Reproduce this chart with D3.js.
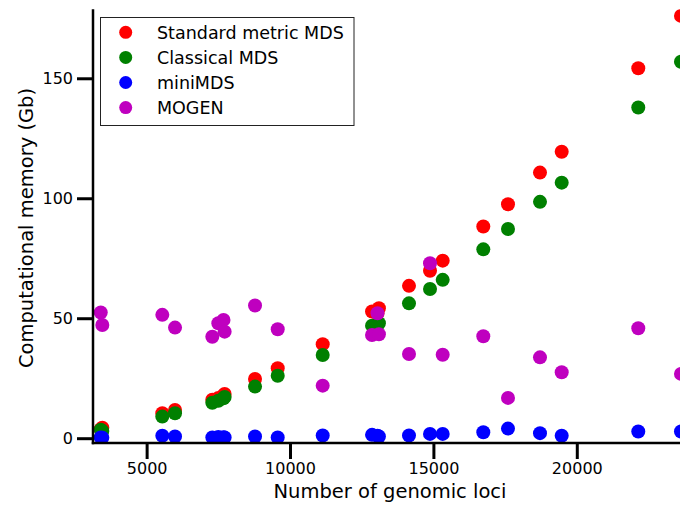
<!DOCTYPE html>
<html lang="en">
<head>
    <meta charset="UTF-8">
    <title>Memory vs genomic loci</title>
    <script src="https://d3js.org/d3.v7.min.js"></script>
    <style>
        body { margin: 0; background: #fff; }
        svg { display: block; font-family: "DejaVu Sans", sans-serif; }
    </style>
</head>
<body>
    <svg width="680" height="505"></svg>
    <script>

// Number of genomic loci per chromosome
const loci = [3400, 3455, 5547, 5990, 7291, 7500, 7680, 7720, 8780, 9571, 11140,
    12860, 13050, 13100, 14149, 14882, 15324, 16740, 17601, 18717, 19474, 22144, 23633];

// Memory (Gb) for each method
const standardMDS = [3.8, 4.4, 10.4, 11.8, 16.0, 16.8, 17.8, 18.4, 24.7, 29.2, 39.2,
    52.8, 52.0, 54.2, 63.5, 69.8, 74.0, 88.2, 97.5, 110.7, 119.4, 154.2, 176.0];
const classicalMDS = [3.5, 3.0, 9.0, 10.4, 14.8, 15.6, 16.6, 17.2, 21.5, 26.0, 34.7,
    46.9, 47.5, 47.9, 56.2, 62.2, 66.0, 78.7, 87.2, 98.5, 106.5, 137.8, 156.9];
const miniMDS = [0.3, 0.2, 1.0, 0.7, 0.3, 0.5, 0.4, 0.3, 0.7, 0.3, 1.1,
    1.4, 1.0, 0.7, 1.1, 1.8, 1.8, 2.5, 4.0, 2.1, 1.0, 2.8, 2.8];
const mogen = [52.4, 47.2, 51.4, 46.1, 42.3, 47.9, 49.3, 44.4, 55.3, 45.4, 21.9,
    43.0, 52.1, 43.3, 35.1, 72.9, 34.8, 42.5, 16.8, 33.7, 27.5, 45.8, 26.8];

const seriesNames = ["Standard metric MDS", "Classical MDS", "miniMDS", "MOGEN"];
const seriesValues = [standardMDS, classicalMDS, miniMDS, mogen];
const seriesColors = ["#ff0000", "#008000", "#0000ff", "#bf00bf"];

const xTicks = [5000, 10000, 15000, 20000];
const yTicks = [0, 50, 100, 150];

const svg = d3.select("svg");
const plotLeft = 93, plotTop = 9.3, plotBottom = 443;

const x = d3.scaleLinear().domain([3130, 24000]).range([plotLeft, 691.5]);
const y = d3.scaleLinear().domain([-2, 178.75]).range([plotBottom, plotTop]);

svg.append("clipPath").attr("id", "plot")
    .append("rect")
    .attr("x", plotLeft).attr("y", plotTop)
    .attr("width", 700 - plotLeft).attr("height", plotBottom - plotTop);

// points, drawn series by series so MOGEN ends on top
const pts = svg.append("g").attr("clip-path", "url(#plot)");
seriesValues.forEach((vals, i) => {
    pts.append("g")
        .selectAll("circle")
        .data(loci.map((l, j) => ({ l, v: vals[j] })))
        .enter().append("circle")
        .attr("cx", d => x(d.l))
        .attr("cy", d => y(d.v))
        .attr("r", 7)
        .attr("fill", seriesColors[i]);
});

// axes
const xAxis = svg.append("g")
    .attr("transform", `translate(0,${plotBottom})`)
    .call(d3.axisBottom(x).tickValues(xTicks).tickSize(16).tickPadding(4).tickFormat(d3.format("d")));
const yAxis = svg.append("g")
    .attr("transform", `translate(${plotLeft},0)`)
    .call(d3.axisLeft(y).tickValues(yTicks).tickSize(16).tickPadding(4));

[xAxis, yAxis].forEach(a => {
    a.select(".domain").remove();
    a.selectAll(".tick line").attr("stroke", "#000").attr("stroke-width", 3);
    a.selectAll(".tick text")
        .attr("fill", "#000")
        .style("font-family", "DejaVu Sans")
        .style("font-size", "16px");
});

// spines
svg.append("line")
    .attr("x1", plotLeft).attr("x2", plotLeft)
    .attr("y1", plotTop).attr("y2", plotBottom + 1.25)
    .attr("stroke", "#000").attr("stroke-width", 2.5);
svg.append("line")
    .attr("x1", plotLeft - 1.25).attr("x2", 680)
    .attr("y1", plotBottom).attr("y2", plotBottom)
    .attr("stroke", "#000").attr("stroke-width", 2.5);

// axis labels
svg.append("text")
    .attr("x", 390).attr("y", 498)
    .attr("text-anchor", "middle")
    .style("font-size", "19.5px")
    .text("Number of genomic loci");
svg.append("text")
    .attr("transform", "translate(26,228) rotate(-90)")
    .attr("text-anchor", "middle")
    .attr("dominant-baseline", "central")
    .style("font-size", "19.5px")
    .text("Computational memory (Gb)");

// legend
const legend = svg.append("g");
legend.append("rect")
    .attr("x", 100.5).attr("y", 17.5)
    .attr("width", 253.5).attr("height", 108)
    .attr("fill", "#fff").attr("stroke", "#222").attr("stroke-width", 1);
seriesNames.forEach((name, i) => {
    const cy = 32.3 + i * 25.1;
    legend.append("circle")
        .attr("cx", 125.7).attr("cy", cy).attr("r", 6.5)
        .attr("fill", seriesColors[i]);
    legend.append("text")
        .attr("x", 157).attr("y", cy + 6.2)
        .style("font-size", "17.5px")
        .text(name);
});

    </script>
</body>
</html>
